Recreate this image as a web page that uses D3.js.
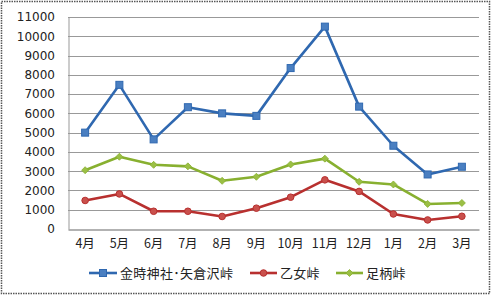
<!DOCTYPE html>
<html>
<head>
<meta charset="utf-8">
<script src="https://cdn.jsdelivr.net/npm/d3@7"></script>
<style>
  body { margin: 0; background: #fff; }
  text { font-family: "Noto Sans CJK JP", "DejaVu Sans", sans-serif; fill: #222; }
</style>
</head>
<body>
<div id="my_dataviz"></div>
<script>
// data
var months = ["4月", "5月", "6月", "7月", "8月", "9月", "10月", "11月", "12月", "1月", "2月", "3月"];
var kintoki = [5000, 7480, 4650, 6320, 6000, 5870, 8350, 10500, 6350, 4320, 2830, 3230];
var otome = [1480, 1820, 920, 920, 650, 1080, 1650, 2550, 1950, 780, 470, 660];
var ashigara = [3050, 3750, 3330, 3250, 2500, 2710, 3350, 3650, 2450, 2310, 1300, 1350];
var yTicks = [0, 1000, 2000, 3000, 4000, 5000, 6000, 7000, 8000, 9000, 10000, 11000];
var seriesNames = ["金時神社･矢倉沢峠", "乙女峠", "足柄峠"];

var W = 491, H = 295;
var margin = {top: 17, right: 12, bottom: 66, left: 68},
    width = W - margin.left - margin.right,
    height = H - margin.top - margin.bottom;

var svg = d3.select("#my_dataviz")
  .append("svg")
    .attr("width", W)
    .attr("height", H);

// outer dotted frame
svg.append("rect")
  .attr("x", 1.5).attr("y", 1.5)
  .attr("width", W - 3).attr("height", H - 3)
  .attr("fill", "none")
  .attr("stroke", "#555")
  .attr("stroke-width", 1.5)
  .attr("stroke-dasharray", "1.5,1");

var g = svg.append("g")
  .attr("transform", "translate(" + margin.left + "," + margin.top + ")");

var x = d3.scaleBand()
  .domain(months)
  .range([0, width]);

var y = d3.scaleLinear()
  .domain([0, 11000])
  .range([height, 0]);

// gridlines
g.selectAll(".grid")
  .data(yTicks.slice(1))
  .enter().append("line")
    .attr("class", "grid")
    .attr("x1", 0).attr("x2", width)
    .attr("y1", function(d) { return Math.round(y(d)) + 0.5; })
    .attr("y2", function(d) { return Math.round(y(d)) + 0.5; })
    .attr("stroke", "#999")
    .attr("stroke-width", 1);

// y axis
var yAxis = g.append("g")
  .call(d3.axisLeft(y).tickValues(yTicks).tickFormat(d3.format("d")).tickSize(0).tickPadding(13));
yAxis.select(".domain").attr("stroke", "#999").attr("transform", "translate(0.5,0)");
yAxis.selectAll("text").style("font-size", "12px").attr("fill", "#222")
  .style("font-family", "Tahoma, 'DejaVu Sans', sans-serif");

// x axis
var xAxis = g.append("g")
  .attr("transform", "translate(0," + (Math.round(height) + 0.5) + ")")
  .call(d3.axisBottom(x).tickSize(0).tickPadding(10));
xAxis.select(".domain").attr("stroke", "#999").attr("stroke-width", 1.5);
xAxis.selectAll("text").style("font-size", "12.5px").attr("fill", "#222");

var series = [
  {name: seriesNames[0], values: kintoki, color: "#2f68b0", fill: "#4a7fc1", marker: "square"},
  {name: seriesNames[1], values: otome, color: "#b8302f", fill: "#c9504c", marker: "circle"},
  {name: seriesNames[2], values: ashigara, color: "#88b030", fill: "#9bbf45", marker: "diamond"}
];

var cx = function(i) { return x(months[i]) + x.bandwidth() / 2; };

var line = d3.line()
  .x(function(d, i) { return cx(i); })
  .y(function(d) { return y(d); });

function drawMarker(sel, s, px, py) {
  if (s.marker === "square") {
    sel.append("rect")
      .attr("x", px - 3.5).attr("y", py - 3.5)
      .attr("width", 7).attr("height", 7)
      .attr("fill", s.fill).attr("stroke", s.color).attr("stroke-width", 1);
  } else if (s.marker === "circle") {
    sel.append("circle")
      .attr("cx", px).attr("cy", py).attr("r", 3.3)
      .attr("fill", s.fill).attr("stroke", s.color).attr("stroke-width", 1);
  } else {
    sel.append("path")
      .attr("d", "M" + px + "," + (py - 3.5) + "L" + (px + 3.5) + "," + py + "L" + px + "," + (py + 3.5) + "L" + (px - 3.5) + "," + py + "Z")
      .attr("fill", s.fill).attr("stroke", s.color).attr("stroke-width", 0.8);
  }
}

// draw lines in order green, red, blue so blue sits on top
[series[2], series[1], series[0]].forEach(function(s) {
  g.append("path")
    .datum(s.values)
    .attr("fill", "none")
    .attr("stroke", s.color)
    .attr("stroke-width", 2.6)
    .attr("stroke-linejoin", "round")
    .attr("d", line);
  var mg = g.append("g");
  s.values.forEach(function(v, i) { drawMarker(mg, s, cx(i), y(v)); });
});

// legend
var legendItems = [
  {s: series[0], x1: 89, x2: 117, tx: 120},
  {s: series[1], x1: 250, x2: 277, tx: 280},
  {s: series[2], x1: 336, x2: 363, tx: 366}
];
var legY = 273;
legendItems.forEach(function(it) {
  svg.append("line")
    .attr("x1", it.x1).attr("x2", it.x2)
    .attr("y1", legY).attr("y2", legY)
    .attr("stroke", it.s.color).attr("stroke-width", 2.6);
  drawMarker(svg, it.s, (it.x1 + it.x2) / 2, legY);
  svg.append("text")
    .attr("x", it.tx).attr("y", legY)
    .attr("dy", "0.35em")
    .style("font-size", "13px")
    .style("letter-spacing", "0.3px")
    .text(it.s.name);
});
</script>
</body>
</html>
